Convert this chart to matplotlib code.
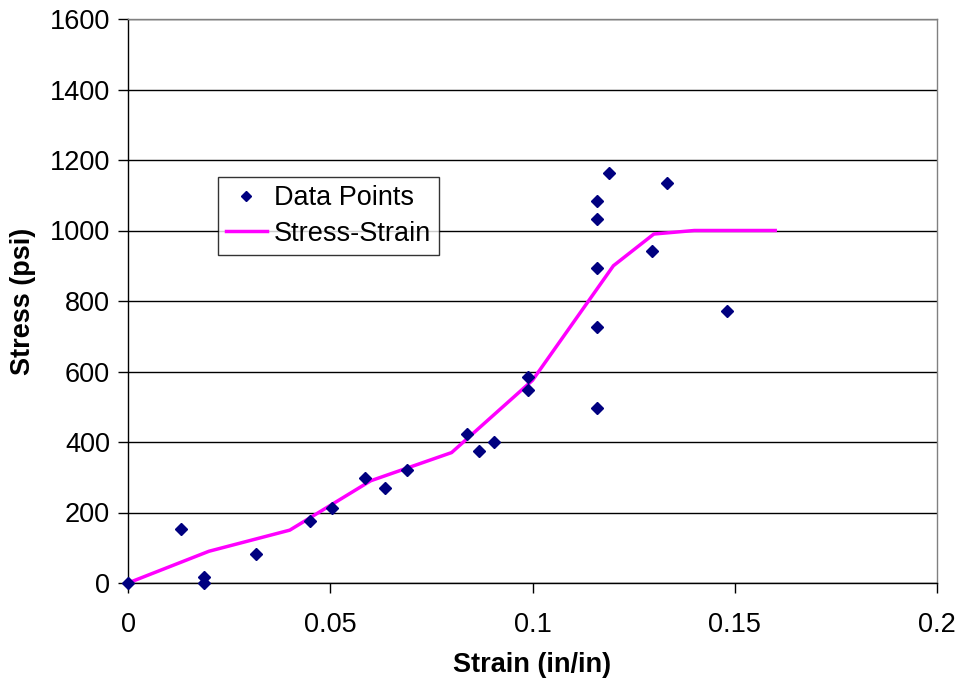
import matplotlib
matplotlib.use("Agg")
import matplotlib.pyplot as plt

plt.rcParams['font.family'] = ['Liberation Sans', 'DejaVu Sans']

# Data points (strain, stress)
data_strain = [0.0, 0.0131, 0.0188, 0.0188, 0.0316, 0.0450, 0.0504, 0.0586, 0.0635,
               0.0690, 0.0838, 0.0868, 0.0905, 0.0989, 0.0989, 0.1160, 0.1160, 0.1160,
               0.1160, 0.1160, 0.1190, 0.1295, 0.1333, 0.1480]
data_stress = [0, 153, 17, 0, 82, 176, 213, 298, 270,
               320, 423, 374, 400, 584, 547, 496, 726, 894,
               1033, 1084, 1163, 942, 1135, 772]

# Stress-strain curve
curve_strain = [0.0, 0.02, 0.04, 0.06, 0.08, 0.10, 0.12, 0.13, 0.14, 0.16]
curve_stress = [0, 90, 150, 290, 370, 575, 900, 990, 1000, 1000]

x_ticks = [0, 0.05, 0.1, 0.15, 0.2]
x_tick_labels = ["0", "0.05", "0.1", "0.15", "0.2"]
y_ticks = [0, 200, 400, 600, 800, 1000, 1200, 1400, 1600]

FS = 19.5

fig = plt.figure(figsize=(9.57, 6.82), dpi=100)
ax = fig.add_axes([128/957, 1-583/682, (937-128)/957, (583-19)/682])

ax.plot(data_strain, data_stress, linestyle='none', marker='D', markersize=6,
        color='#000080', label='Data Points', zorder=3, clip_on=False)
ax.plot(curve_strain, curve_stress, color='#FF00FF', linewidth=2.5,
        label='Stress-Strain', zorder=2)

ax.set_xlim(0, 0.2)
ax.set_ylim(0, 1600)
ax.set_xticks(x_ticks)
ax.set_xticklabels(x_tick_labels)
ax.set_yticks(y_ticks)
ax.yaxis.grid(True, color='black', linewidth=1.0)
ax.set_axisbelow(True)

for s in ['left', 'bottom']:
    ax.spines[s].set_color('black')
    ax.spines[s].set_linewidth(1.0)
for s in ['top', 'right']:
    ax.spines[s].set_color('#808080')
    ax.spines[s].set_linewidth(1.0)

ax.tick_params(axis='both', direction='out', length=7, width=1, labelsize=FS,
               colors='black')
ax.tick_params(axis='y', pad=6)
ax.tick_params(axis='x', pad=14)

ax.set_xlabel('Strain (in/in)', fontsize=FS, fontweight='bold', labelpad=10)
ax.set_ylabel('Stress (psi)', fontsize=FS, fontweight='bold', labelpad=10)

leg = ax.legend(loc='upper left', bbox_to_anchor=((218-128)/809, (583-177)/564),
                fontsize=FS, frameon=True, fancybox=False, edgecolor='black',
                handlelength=1.5, handletextpad=0.25, borderpad=0.3, labelspacing=0.35,
                borderaxespad=0, markerscale=0.85)
leg.get_frame().set_linewidth(1.0)

fig.savefig('out.png', dpi=100)
